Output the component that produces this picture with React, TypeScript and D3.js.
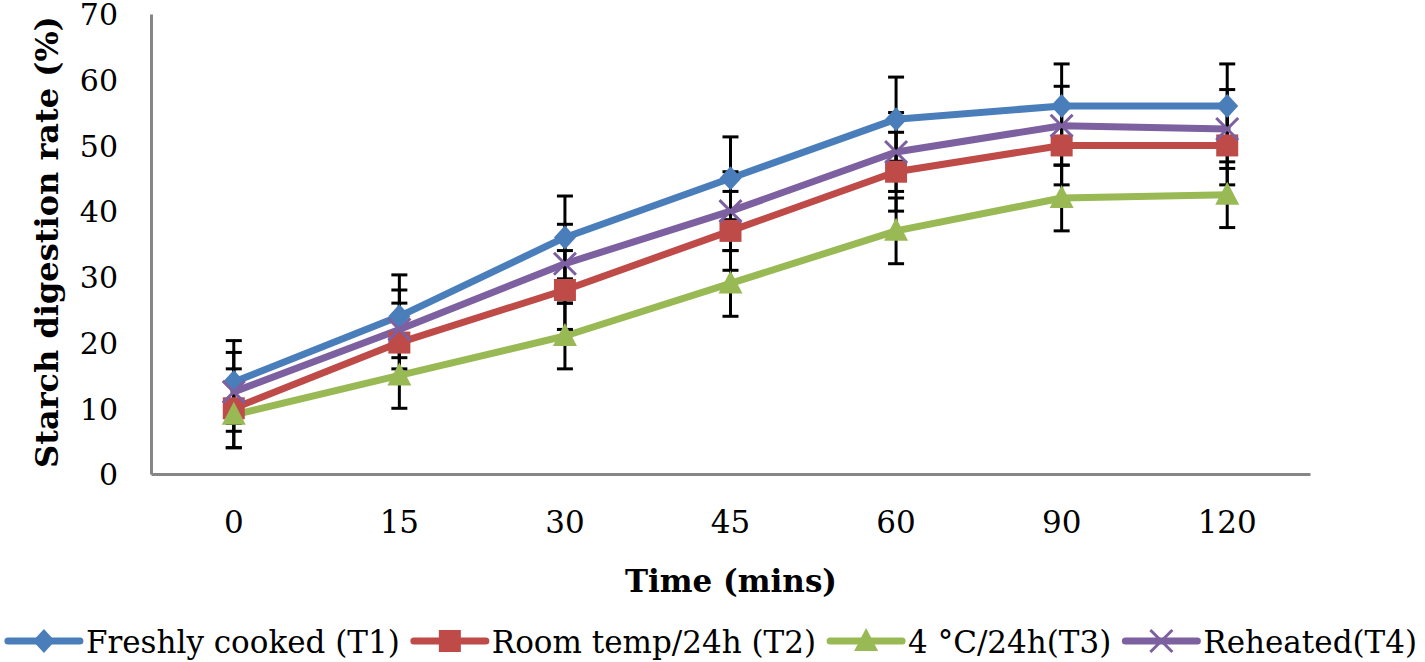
import React, { useEffect, useRef } from 'react';
import * as d3 from 'd3';

// time points (mins) on the x axis
const categories = ['0', '15', '30', '45', '60', '90', '120'];

// starch digestion rate (%) per treatment
const freshlyCooked = [14, 24, 36, 45, 54, 56, 56];
const roomTemp = [10, 20, 28, 37, 46, 50, 50];
const chilled = [9, 15, 21, 29, 37, 42, 42.5];
const reheated = [12.5, 22, 32, 40, 49, 53, 52.5];

// error bar half-widths
const freshlyCookedErr = [6.3, 6.3, 6.3, 6.3, 6.4, 6.4, 6.4];
const roomTempErr = [6, 6, 6, 6, 6, 6, 6];
const chilledErr = [5, 5, 5, 5, 5, 5, 5];
const reheatedErr = [6, 6, 6, 6, 6, 6, 6];

const yTicks = [0, 10, 20, 30, 40, 50, 60, 70];

const seriesNames = ['Freshly cooked (T1)', 'Room temp/24h (T2)', '4 °C/24h(T3)', 'Reheated(T4)'];

interface Series {
  name: string;
  values: number[];
  errors: number[];
  color: string;
  marker: 'diamond' | 'square' | 'triangle' | 'x';
}

const series: Series[] = [
  { name: seriesNames[0], values: freshlyCooked, errors: freshlyCookedErr, color: '#4a7ebb', marker: 'diamond' },
  { name: seriesNames[1], values: roomTemp, errors: roomTempErr, color: '#be4b48', marker: 'square' },
  { name: seriesNames[2], values: chilled, errors: chilledErr, color: '#98b954', marker: 'triangle' },
  { name: seriesNames[3], values: reheated, errors: reheatedErr, color: '#7d60a0', marker: 'x' },
];

const W = 1425;
const H = 662;
const FONT = '"DejaVu Serif", "Liberation Serif", serif';

function drawMarker(g: d3.Selection<SVGGElement, unknown, null, undefined>, s: Series, cx: number, cy: number) {
  if (s.marker === 'diamond') {
    g.append('path')
      .attr('d', `M${cx},${cy - 12}L${cx + 11},${cy}L${cx},${cy + 12}L${cx - 11},${cy}Z`)
      .attr('fill', s.color);
  } else if (s.marker === 'square') {
    g.append('rect')
      .attr('x', cx - 11)
      .attr('y', cy - 11)
      .attr('width', 22)
      .attr('height', 22)
      .attr('fill', s.color);
  } else if (s.marker === 'triangle') {
    g.append('path')
      .attr('d', `M${cx},${cy - 13}L${cx + 12},${cy + 10}L${cx - 12},${cy + 10}Z`)
      .attr('fill', s.color);
  } else {
    g.append('path')
      .attr('d', `M${cx - 11},${cy - 11}L${cx + 11},${cy + 11}M${cx + 11},${cy - 11}L${cx - 11},${cy + 11}`)
      .attr('stroke', s.color)
      .attr('stroke-width', 3)
      .attr('fill', 'none');
  }
}

const DigestionChart: React.FC = () => {
  const svgRef = useRef<SVGSVGElement>(null);

  useEffect(() => {
    if (!svgRef.current) return;
    const svg = d3.select(svgRef.current);
    svg.selectAll('*').remove();

    const left = 151;
    const right = 1310;
    const bottom = 474;
    const top = 14;

    const x = d3.scaleBand<string>().domain(categories).range([left, right]);
    const cx = (c: string) => (x(c) ?? 0) + x.bandwidth() / 2;
    const y = d3.scaleLinear().domain([0, 70]).range([bottom, top]);

    // axes
    const yAxis = svg
      .append('g')
      .attr('transform', `translate(${left},0)`)
      .call(d3.axisLeft(y).tickValues(yTicks).tickSize(0).tickPadding(33));
    yAxis.select('.domain').attr('stroke', '#868686').attr('stroke-width', 3);
    yAxis
      .selectAll('text')
      .attr('font-family', FONT)
      .attr('font-size', 30)
      .attr('dy', '0.36em')
      .attr('fill', '#000');

    const xAxis = svg
      .append('g')
      .attr('transform', `translate(0,${bottom})`)
      .call(d3.axisBottom(x).tickSize(0).tickPadding(37));
    xAxis.select('.domain').attr('stroke', '#868686').attr('stroke-width', 3);
    xAxis.selectAll('text').attr('font-family', FONT).attr('font-size', 31).attr('fill', '#000');

    // axis titles
    svg
      .append('text')
      .attr('x', 731)
      .attr('y', 592)
      .attr('text-anchor', 'middle')
      .attr('font-family', FONT)
      .attr('font-weight', 'bold')
      .attr('font-size', 31)
      .text('Time (mins)');

    svg
      .append('text')
      .attr('transform', 'translate(58,242) rotate(-90)')
      .attr('text-anchor', 'middle')
      .attr('font-family', FONT)
      .attr('font-weight', 'bold')
      .attr('font-size', 32)
      .text('Starch digestion rate (%)');

    // lines
    const line = d3
      .line<number>()
      .x((_, i) => cx(categories[i]))
      .y((d) => y(d));

    series.forEach((s) => {
      svg
        .append('path')
        .attr('d', line(s.values))
        .attr('fill', 'none')
        .attr('stroke', s.color)
        .attr('stroke-width', 7)
        .attr('stroke-linejoin', 'round')
        .attr('stroke-linecap', 'round');
    });

    // error bars
    const eb = svg.append('g').attr('stroke', '#000').attr('stroke-width', 3);
    series.forEach((s) => {
      s.values.forEach((v, i) => {
        const px = cx(categories[i]);
        const hi = y(v + s.errors[i]);
        const lo = y(v - s.errors[i]);
        eb.append('line').attr('x1', px).attr('x2', px).attr('y1', hi).attr('y2', lo);
        eb.append('line').attr('x1', px - 8).attr('x2', px + 8).attr('y1', hi).attr('y2', hi);
        eb.append('line').attr('x1', px - 8).attr('x2', px + 8).attr('y1', lo).attr('y2', lo);
      });
    });

    // markers
    const mk = svg.append('g');
    series.forEach((s) => {
      s.values.forEach((v, i) => drawMarker(mk as any, s, cx(categories[i]), y(v)));
    });

    // legend
    const legend = svg.append('g');
    const ly = 641;
    const sampleW = 72;
    let lx = 0;
    series.forEach((s, i) => {
      const item = legend.append('g').attr('transform', `translate(${lx},0)`);
      item
        .append('line')
        .attr('x1', 0)
        .attr('x2', sampleW)
        .attr('y1', ly)
        .attr('y2', ly)
        .attr('stroke', s.color)
        .attr('stroke-width', 7)
        .attr('stroke-linecap', 'round');
      drawMarker(item as any, s, sampleW / 2, ly);
      const t = item
        .append('text')
        .attr('x', sampleW + 6)
        .attr('y', ly + 12)
        .attr('font-family', FONT)
        .attr('font-size', 31)
        .text(s.name);
      const tw = (t.node() as SVGTextElement).getComputedTextLength();
      lx += sampleW + 6 + tw + (i < series.length - 1 ? 14 : 0);
    });
    const offset = Math.max(0, (W - lx) / 2);
    legend.attr('transform', `translate(${offset},0)`);
  }, []);

  return (
    <svg
      ref={svgRef}
      width={W}
      height={H}
      style={{ position: 'absolute', left: 0, top: 0, background: '#fff' }}
    />
  );
};

export default function App() {
  return <DigestionChart />;
}
